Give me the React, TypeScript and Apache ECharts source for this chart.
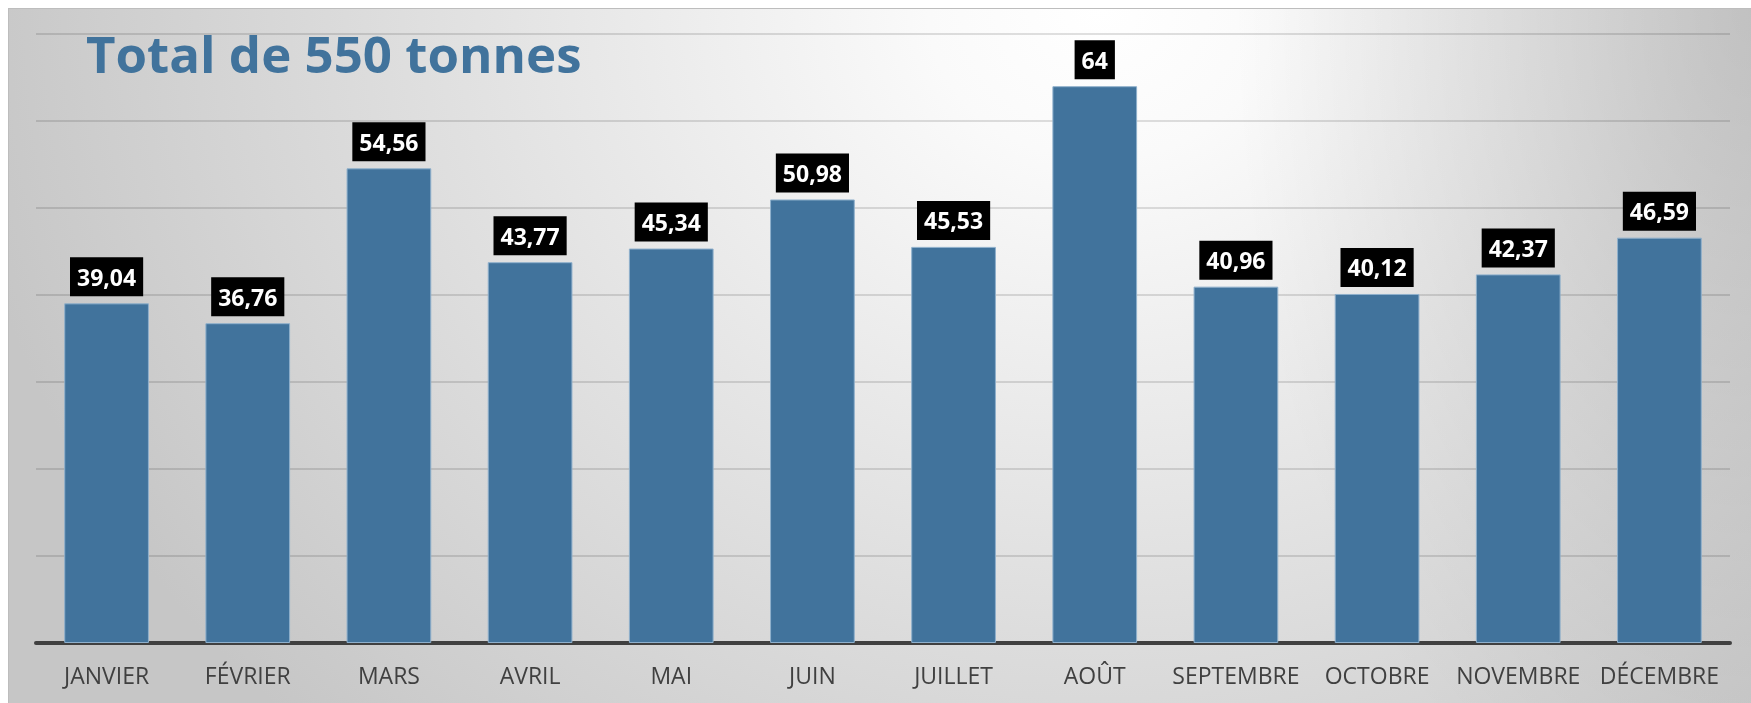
import React, { useEffect, useRef } from "react";
import * as echarts from "echarts";

const titleText = "Total de 550 tonnes";
const months = [
  "JANVIER",
  "FÉVRIER",
  "MARS",
  "AVRIL",
  "MAI",
  "JUIN",
  "JUILLET",
  "AOÛT",
  "SEPTEMBRE",
  "OCTOBRE",
  "NOVEMBRE",
  "DÉCEMBRE",
];
const tonnes = [39.04, 36.76, 54.56, 43.77, 45.34, 50.98, 45.53, 64, 40.96, 40.12, 42.37, 46.59];
const yMin = 0;
const yMax = 70;
const yStep = 10;

export default function App() {
  const ref = useRef<HTMLDivElement>(null);

  useEffect(() => {
    if (!ref.current) return;
    const chart = echarts.init(ref.current, null, { renderer: "svg" });
    chart.setOption({
      animation: false,
      backgroundColor: "transparent",
      title: {
        text: titleText,
        left: 72,
        top: 13,
        textStyle: {
          fontFamily: "Open Sans",
          fontWeight: "bold",
          fontSize: 51,
          color: "#41739c",
        },
      },
      grid: { left: 27, right: 21, top: 25, bottom: 60, containLabel: false },
      xAxis: {
        type: "category",
        data: months,
        axisTick: { show: false },
        axisLine: { lineStyle: { color: "#404040", width: 4 } },
        axisLabel: {
          color: "#404040",
          fontFamily: "Open Sans",
          fontSize: 23,
          margin: 20,
          interval: 0,
        },
      },
      yAxis: {
        type: "value",
        min: yMin,
        max: yMax,
        interval: yStep,
        axisLabel: { show: false },
        axisLine: { show: false },
        axisTick: { show: false },
        splitLine: { lineStyle: { color: "rgba(0,0,0,0.12)", width: 2 } },
      },
      series: [
        {
          type: "bar",
          data: tonnes,
          barWidth: "60%",
          itemStyle: { color: "#41739c", borderColor: "#8fb0cc", borderWidth: 1 },
          label: {
            show: true,
            position: "top",
            distance: 7,
            formatter: (p: any) => String(p.value).replace(".", ","),
            backgroundColor: "#000000",
            color: "#ffffff",
            fontFamily: "Open Sans",
            fontWeight: "bold",
            fontSize: 23,
            lineHeight: 29,
            padding: [5, 7, 5, 7],
          },
        },
      ],
    });
    return () => chart.dispose();
  }, []);

  return (
    <div
      style={{
        position: "fixed",
        left: 8,
        top: 8,
        width: 1743,
        height: 695,
        boxSizing: "border-box",
        borderTop: "1px solid #bdbdbd",
        borderLeft: "1px solid #bdbdbd",
        background:
          "radial-gradient(ellipse 520px 900px at 1743px 0px, rgba(0,0,0,0.14) 0%, rgba(0,0,0,0) 100%), radial-gradient(ellipse 1150px 1000px at 1092px 0px, #ffffff 0%, #fafafa 15%, #c6c6c6 100%)",
      }}
    >
      <div ref={ref} style={{ width: 1742, height: 694 }} />
    </div>
  );
}
